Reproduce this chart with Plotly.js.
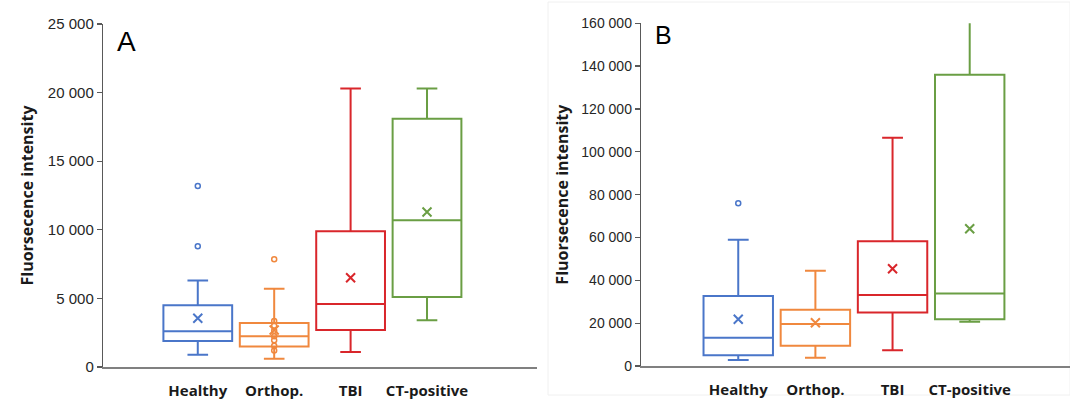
<!DOCTYPE html>
<html>
<head>
<meta charset="utf-8">
<script src="https://cdn.plot.ly/plotly-3.0.1.min.js"></script>
<style>html,body{margin:0;padding:0;background:#fff;}#chart{width:1070px;height:401px;}</style>
</head>
<body>
<div id="chart"></div>
<script>
// ---- data ----
const categories = ['Healthy', 'Orthop.', 'TBI', 'CT-positive'];
const colors = ['#4A76C9', '#F0883E', '#D9262B', '#6A9E44'];

// Panel A
const A_lower  = [900, 600, 1100, 3400];
const A_q1     = [1900, 1500, 2700, 5100];
const A_median = [2600, 2250, 4600, 10700];
const A_q3     = [4500, 3200, 9900, 18100];
const A_upper  = [6300, 5700, 20300, 20300];
const A_mean   = [3550, 2700, 6500, 11300];
const A_points = [[13200, 8800], [7850, 3350, 3000, 2650, 2250, 1950, 1550, 1200], [], []];

// Panel B
const B_lower  = [2800, 3900, 7300, 20700];
const B_q1     = [5000, 9500, 25000, 21800];
const B_median = [13200, 19600, 33100, 33900];
const B_q3     = [32700, 26300, 58200, 136000];
const B_upper  = [59000, 44500, 106600, 180000];
const B_mean   = [21800, 20200, 45400, 64100];
const B_points = [[76000], [], [], []];

const yTitle = 'Fluorsecence intensity';

// ---- traces ----
const traces = [];
function addPanel(xa, ya, lower, q1, med, q3, upper, mean, pts) {
  categories.forEach((c, i) => {
    traces.push({
      type: 'box', xaxis: xa, yaxis: ya, x: [c],
      lowerfence: [lower[i]], q1: [q1[i]], median: [med[i]], q3: [q3[i]], upperfence: [upper[i]],
      width: 0.9, whiskerwidth: 0.3,
      line: {color: colors[i], width: 2}, fillcolor: 'rgba(0,0,0,0)',
      boxpoints: false, showlegend: false, hoverinfo: 'skip'
    });
    if (pts[i].length) {
      traces.push({
        type: 'scatter', mode: 'markers', xaxis: xa, yaxis: ya,
        x: pts[i].map(() => c), y: pts[i],
        marker: {symbol: 'circle-open', size: 5, color: colors[i], line: {color: colors[i], width: 1.5}},
        showlegend: false, hoverinfo: 'skip'
      });
    }
    traces.push({
      type: 'scatter', mode: 'markers', xaxis: xa, yaxis: ya,
      x: [c], y: [mean[i]],
      marker: {symbol: 'x-thin-open', size: 9, color: colors[i], line: {color: colors[i], width: 2}},
      showlegend: false, hoverinfo: 'skip'
    });
  });
}
addPanel('x', 'y', A_lower, A_q1, A_median, A_q3, A_upper, A_mean, A_points);
addPanel('x2', 'y2', B_lower, B_q1, B_median, B_q3, B_upper, B_mean, B_points);

// ---- layout ----
const xCommon = {
  type: 'category', categoryorder: 'array', categoryarray: categories,
  showline: true, linecolor: '#808080', linewidth: 2, ticks: '', showgrid: false, zeroline: false,
  tickfont: {family: 'Open Sans', size: 15, color: '#1a1a1a', weight: 700},
  ticklabelstandoff: 9, fixedrange: true
};
const yCommon = {
  showline: true, linecolor: '#595959', linewidth: 1.3, ticks: 'outside', ticklen: 5, tickcolor: '#595959',
  tickwidth: 1.3, showgrid: false, zeroline: false, tickformat: ',d', separatethousands: true,
  tickfont: {family: 'Liberation Sans', color: '#262626'},
  title: {text: yTitle, font: {family: 'Open Sans', size: 16, color: '#1a1a1a', weight: 700}, standoff: 12}
};

const layout = {
  width: 1070, height: 401,
  margin: {l: 0, r: 0, t: 0, b: 0},
  paper_bgcolor: '#ffffff', plot_bgcolor: '#ffffff',
  separators: '. ',
  boxmode: 'overlay',
  showlegend: false,
  xaxis: Object.assign({}, xCommon, {domain: [0.0963, 0.5019], range: [-1.24, 4.44], anchor: 'y'}),
  yaxis: Object.assign({}, yCommon, {domain: [0.0848, 0.9401], range: [0, 25000], dtick: 5000, anchor: 'x',
    tickfont: {family: 'Liberation Sans', size: 15, color: '#262626'},
    title: Object.assign({}, yCommon.title, {standoff: 10})}),
  xaxis2: Object.assign({}, xCommon, {domain: [0.5991, 1], range: [-1.26, 4.30], anchor: 'y2'}),
  yaxis2: Object.assign({}, yCommon, {domain: [0.0873, 0.9419], range: [0, 160000], dtick: 20000, anchor: 'x2',
    tickfont: {family: 'Liberation Sans', size: 14, color: '#262626'},
    title: Object.assign({}, yCommon.title, {standoff: 8})}),
  annotations: [
    {text: 'A', xref: 'paper', yref: 'paper', x: 115 / 1070, y: 1 - 41.7 / 401, xanchor: 'left', yanchor: 'middle',
     showarrow: false, font: {family: 'Liberation Sans', size: 28, color: '#000'}},
    {text: 'B', xref: 'paper', yref: 'paper', x: 653 / 1070, y: 1 - 35.5 / 401, xanchor: 'left', yanchor: 'middle',
     showarrow: false, font: {family: 'Liberation Sans', size: 25, color: '#000'}}
  ],
  shapes: [
    {type: 'rect', xref: 'paper', yref: 'paper', x0: 548 / 1070, x1: 1, y0: 1 - 395 / 401, y1: 1 - 2 / 401,
     line: {color: '#f0f0f0', width: 1}, layer: 'below'}
  ]
};

Plotly.newPlot('chart', traces, layout, {staticPlot: true, displayModeBar: false});
</script>
</body>
</html>
